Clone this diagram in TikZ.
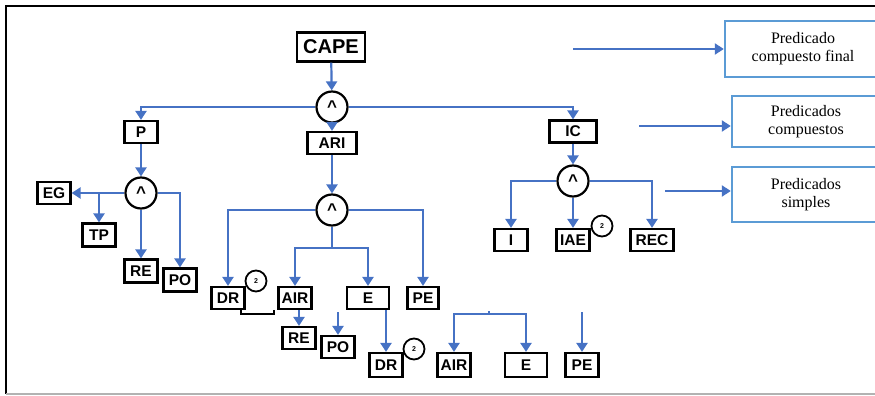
\documentclass[tikz,border=0pt]{standalone}
\usepackage{fontspec}
\setmainfont{Liberation Serif}
\newfontfamily\boxfont{Liberation Sans}[BoldFont={Liberation Sans Bold}]
\usetikzlibrary{arrows.meta}
\definecolor{linkblue}{RGB}{70,114,196}
\definecolor{legendblue}{RGB}{91,155,213}

\begin{document}
\begin{tikzpicture}[x=1pt, y=-1pt,
    box/.style={draw, line width=2.2pt, minimum width=33pt, minimum height=22pt, inner sep=2pt,
        font=\boxfont\bfseries\fontsize{15.5}{15.5}\selectfont},
    andnode/.style={circle, draw, line width=2.2pt, minimum size=31pt, inner sep=0pt,
        font=\boxfont\bfseries\fontsize{17}{17}\selectfont},
    twonode/.style={circle, draw, line width=1.8pt, minimum size=21pt, inner sep=0pt,
        font=\boxfont\bfseries\fontsize{7}{7}\selectfont},
    legend/.style={draw=legendblue, line width=2.4pt, align=center,
        font=\rmfamily\fontsize{16}{18}\selectfont},
    link/.style={draw=linkblue, line width=2.2pt},
    >={Triangle[length=9pt, width=11pt]}]

    \useasboundingbox (0,0) rectangle (875,396);
    \clip (0,0) rectangle (875,396);

    % frame
    \draw[line width=2.8pt] (875,6) -- (6,6) -- (6,394);
    \draw[gray!60, line width=1.2pt] (6,394) -- (875,394);

    % top level
    \node[box, minimum width=68pt, minimum height=29pt, font=\boxfont\bfseries\fontsize{20}{20}\selectfont] (cape) at (331,47) {CAPE};
    \node[andnode] (and1) at (332,107) {\textasciicircum};
    \node[box] (p) at (141,132) {P};
    \node[box, minimum width=49pt] (ari) at (332,143) {ARI};
    \node[box, minimum width=47pt] (ic) at (573,131.5) {IC};

    % P branch
    \node[andnode] (pand) at (141,193) {\textasciicircum};
    \node[box] (eg) at (54,193) {EG};
    \node[box, minimum height=23pt] (tp) at (99,235) {TP};
    \node[box, minimum height=23pt] (re1) at (141,271) {RE};
    \node[box, minimum height=23pt] (po1) at (180,280) {PO};

    % ARI branch
    \node[andnode] (arinode) at (332,210) {\textasciicircum};
    \coordinate (split) at (332,248);
    \node[box] (dr1) at (228,298) {DR};
    \node[twonode] (two1) at (256,281) {2};
    \node[box] (air1) at (295,298) {AIR};
    \node[box, minimum width=42pt] (e1) at (368,298) {E};
    \node[box, minimum width=31pt] (pe1) at (423,298) {PE};
    \node[box] (re2) at (299,338) {RE};
    \node[box] (po2) at (338,347) {PO};
    \coordinate (po2top) at (338,312);
    \node[box, minimum height=24pt] (dr2) at (386,365) {DR};
    \node[twonode] (two2) at (414,349) {2};

    % lower right group
    \coordinate (split2) at (489,314);
    \node[box, minimum height=24pt] (air3) at (454,365) {AIR};
    \node[box, minimum width=42pt, minimum height=24pt] (e3) at (526,365) {E};
    \node[box, minimum height=24pt] (pe3) at (582,365) {PE};
    \coordinate (pe3top) at (582,312);

    % IC branch
    \node[andnode] (icand) at (573,181) {\textasciicircum};
    \node[box] (inode) at (511,240) {I};
    \node[box] (iae) at (573,240) {IAE};
    \node[twonode] (two3) at (602,226) {2};
    \node[box, minimum width=43pt] (rec) at (652,240) {REC};

    % legend
    \node[legend, minimum width=156pt, minimum height=56pt] (leg1) at (803,49) {Predicado\\compuesto final};
    \node[legend, minimum width=148pt, minimum height=51pt] (leg2) at (806,121.5) {Predicados\\compuestos};
    \node[legend, minimum width=148pt, minimum height=55pt] (leg3) at (806,194.5) {Predicados\\simples};
    \coordinate (l1) at (573,49);
    \coordinate (l2) at (639,126);
    \coordinate (l3) at (665,191);

    % connectors
    \draw[link, ->] (cape) -- (and1);
    \draw[link, ->] (and1.west) -| (p);
    \draw[link, ->] (and1) -- (ari);
    \draw[link, ->] (and1.east) -| (ic);

    \draw[link, ->] (p) -- (pand);
    \draw[link, ->] (pand.west) -- (eg.east);
    \draw[link, ->] (pand.west -| tp) -- (tp);
    \draw[link, ->] (pand) -- (re1);
    \draw[link, ->] (pand.east) -| (po1);

    \draw[link, ->] (ari) -- (arinode);
    \draw[link, ->] (arinode.west) -| (dr1);
    \draw[link, ->] (arinode.east) -| (pe1);
    \draw[link] (arinode) -- (split);
    \draw[link, ->] (split) -| (air1);
    \draw[link, ->] (split) -| (e1);
    \draw[link, ->] (air1.south -| re2.north) -- (re2);
    \draw[link, ->] (po2top) -- (po2);
    \draw[link, ->] (e1.south -| dr2.north) -- (dr2);

    \draw[link, ->] (split2) -| (air3);
    \draw[link, ->] (split2) -| (e3);
    \draw[link] (split2) -- ++(0,-3);
    \draw[link, ->] (pe3top) -- (pe3);

    \draw[link, ->] (ic) -- (icand);
    \draw[link, ->] (icand.west) -| (inode);
    \draw[link, ->] (icand) -- (iae);
    \draw[link, ->] (icand.east) -| (rec);

    \draw[link, ->] (l1) -- (leg1.west);
    \draw[link, ->] (l2) -- (l2 -| leg2.west);
    \draw[link, ->] (l3) -- (l3 -| leg3.west);

    % bracket under DR
    \draw[line width=1.6pt] (241,310) -- (241,314) -- (274,314) -- (274,310);

\end{tikzpicture}
\end{document}
